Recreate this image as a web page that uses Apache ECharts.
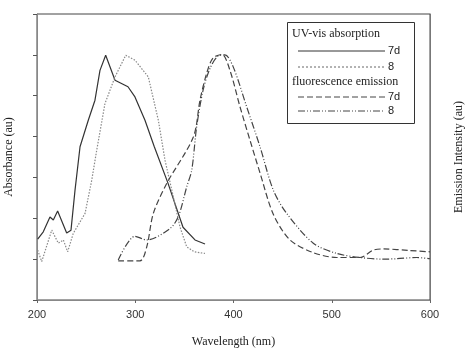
<!DOCTYPE html>
<html>
<head>
<meta charset="utf-8">
<script src="https://cdn.jsdelivr.net/npm/echarts@6/dist/echarts.min.js"></script>
<style>
  html, body { margin: 0; padding: 0; background: #fff; }
  #chart { width: 473px; height: 352px; }
</style>
</head>
<body>
<div id="chart"></div>
<script>
// wavelength (nm) / relative intensity
const uv7dX = [200.7, 206.4, 213.2, 216.6, 221, 230.2, 234.6, 238.7, 243.8, 252.2, 259, 264.1, 269.9, 279.4, 292.6, 299.7, 309.9, 319.4, 333.3, 348.6, 360.8, 371]
const uv7dY = [1.49, 1.67, 2.03, 1.96, 2.18, 1.64, 1.71, 2.69, 3.75, 4.40, 4.89, 5.62, 5.99, 5.38, 5.22, 4.97, 4.40, 3.75, 2.86, 1.78, 1.47, 1.37]

const uv8X = [200.7, 204.8, 215, 221.7, 226.8, 231.2, 236.9, 248.9, 255.7, 260.8, 269.2, 279.4, 290.3, 299.7, 313.3, 323.5, 330.3, 338.7, 345.5, 352.4, 360, 371]
const uv8Y = [1.22, 0.94, 1.71, 1.39, 1.47, 1.18, 1.63, 2.12, 2.93, 3.67, 4.81, 5.46, 5.99, 5.87, 5.46, 4.40, 3.42, 2.53, 1.79, 1.30, 1.18, 1.14]

const em7dX = [282.7, 304.8, 311.7, 318.4, 332, 359.1, 365.9, 372.7, 379.1, 388.3, 396.4, 406.6, 416.8, 427, 440.5, 457.5, 481.2, 505, 528.8, 542.3, 552.5, 579.6, 600]
const em7dY = [0.96, 0.96, 1.30, 2.12, 2.85, 3.99, 4.89, 5.55, 5.92, 6.01, 5.62, 4.73, 3.91, 3.11, 2.10, 1.47, 1.16, 1.04, 1.04, 1.22, 1.25, 1.21, 1.18]

const em8X = [282.7, 299.7, 311.7, 335.4, 343.8, 352.4, 357.5, 362.5, 369, 376.1, 384.2, 391.3, 399.8, 413.4, 427, 440.5, 454.1, 481.2, 505, 528.8, 552.5, 566.1, 586.5, 600]
const em8Y = [0.98, 1.56, 1.47, 1.75, 2.04, 2.77, 3.18, 4.24, 5.13, 5.67, 5.97, 6.00, 5.70, 4.73, 3.75, 2.69, 2.12, 1.39, 1.14, 1.04, 1.00, 1.01, 1.04, 1.01]

const xTicks = [200, 300, 400, 500, 600]

const zip = (xs, ys) => xs.map((x, i) => [x, ys[i]])

const serif = '"Liberation Serif", "DejaVu Serif", serif'
const sans = '"Liberation Sans", Arial, sans-serif'

const chart = echarts.init(document.getElementById('chart'), null, { renderer: 'canvas' })

// legend is hand drawn: the original has group headings in it
const lx = 298, lx2 = 385
const legendItems = [
  { y: 51, dash: null, color: '#333', label: '7d' },
  { y: 67, dash: [2, 2], color: '#666', label: '8' },
  { y: 97, dash: [6, 3], color: '#444', label: '7d' },
  { y: 111, dash: [7, 2, 1, 2, 1, 2], color: '#444', label: '8' }
]
const legendGraphic = [
  { type: 'rect', shape: { x: 287.5, y: 22.5, width: 127, height: 101 },
    style: { fill: '#fff', stroke: '#333', lineWidth: 1 }, z: 10 },
  { type: 'text', x: 292, y: 34, z: 11,
    style: { text: 'UV-vis absorption', font: '12px ' + serif, fill: '#222', textVerticalAlign: 'middle' } },
  { type: 'text', x: 292, y: 82, z: 11,
    style: { text: 'fluorescence emission', font: '12px ' + serif, fill: '#222', textVerticalAlign: 'middle' } }
]
legendItems.forEach((it) => {
  legendGraphic.push({
    type: 'line', z: 11,
    shape: { x1: lx, y1: it.y, x2: lx2, y2: it.y },
    style: { stroke: it.color, lineWidth: 1, lineDash: it.dash }
  })
  legendGraphic.push({
    type: 'text', x: lx2 + 3, y: it.y, z: 11,
    style: { text: it.label, font: '11px ' + sans, fill: '#222', textVerticalAlign: 'middle' }
  })
})

chart.setOption({
  animation: false,
  backgroundColor: '#fff',
  grid: { left: 37, right: 43, top: 14, bottom: 52, outerBoundsMode: 'none', containLabel: false,
    show: true, borderColor: '#444', borderWidth: 1 },
  xAxis: {
    type: 'value', min: 200, max: 600, interval: 100,
    name: 'Wavelength (nm)', nameLocation: 'middle', nameGap: 36,
    nameTextStyle: { fontFamily: serif, fontSize: 12, color: '#222' },
    axisLine: { lineStyle: { color: '#888' } },
    axisTick: { show: true, length: 3, lineStyle: { color: '#666' } },
    axisLabel: { color: '#333', fontFamily: sans, fontSize: 11, margin: 9,
      formatter: (v) => xTicks.includes(v) ? String(v) : '' },
    splitLine: { show: false }
  },
  yAxis: [
    {
      type: 'value', min: 0, max: 7, interval: 1,
      name: 'Absorbance (au)', nameLocation: 'middle', nameGap: 22,
      nameTextStyle: { fontFamily: serif, fontSize: 12, color: '#222' },
      axisLine: { show: true, lineStyle: { color: '#888' } },
      axisTick: { show: true, length: 4, lineStyle: { color: '#555' } },
      axisLabel: { show: false },
      splitLine: { show: false }
    },
    {
      type: 'value', min: 0, max: 7, interval: 1, position: 'right',
      name: 'Emission Intensity (au)', nameLocation: 'middle', nameGap: 23,
      nameRotate: 90,
      nameTextStyle: { fontFamily: serif, fontSize: 12, color: '#222' },
      axisLine: { show: true, lineStyle: { color: '#777' } },
      axisTick: { show: false },
      axisLabel: { show: false },
      splitLine: { show: false }
    }
  ],
  series: [
    { name: 'UV-vis 7d', type: 'line', data: zip(uv7dX, uv7dY), showSymbol: false,
      lineStyle: { color: '#333', width: 1.2 } },
    { name: 'UV-vis 8', type: 'line', data: zip(uv8X, uv8Y), showSymbol: false,
      lineStyle: { color: '#888', width: 1.2, type: [1.5, 1.5] } },
    { name: 'Emission 7d', type: 'line', yAxisIndex: 1, data: zip(em7dX, em7dY), showSymbol: false,
      smooth: 0.3, lineStyle: { color: '#444', width: 1.2, type: [6, 3] } },
    { name: 'Emission 8', type: 'line', yAxisIndex: 1, data: zip(em8X, em8Y), showSymbol: false,
      smooth: 0.3, lineStyle: { color: '#444', width: 1.2, type: [7, 2, 1, 2, 1, 2] } }
  ],
  graphic: legendGraphic
})
</script>
</body>
</html>
